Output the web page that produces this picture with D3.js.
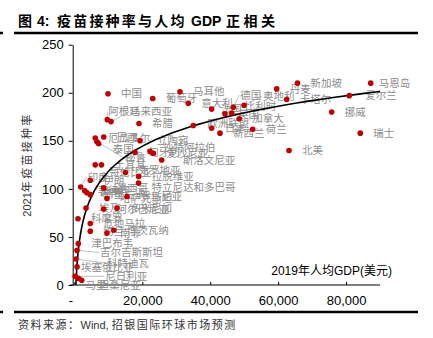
<!DOCTYPE html>
<html>
<head>
<meta charset="utf-8">
<script src="https://cdn.jsdelivr.net/npm/d3@7"></script>
<style>
  body { margin: 0; background: #fff; }
  svg { display: block; }
</style>
</head>
<body>
<script>
// Data: 2019 GDP per capita (USD) and 2021 vaccination rate (doses per 100)
const names = [
  "中国", "阿根廷", "马来西亚", "希腊", "葡萄牙", "马耳他", "意大利", "德国", "法国", "奥地利",
  "比利时", "英国", "加拿大", "欧洲联盟", "日本", "新西兰", "荷兰", "丹麦", "卡塔尔", "新加坡",
  "北美", "挪威", "爱尔兰", "瑞士", "马恩岛", "厄瓜多尔", "秘鲁", "泰国", "巴西", "立陶宛",
  "匈牙利", "沙特阿拉伯", "爱沙尼亚", "斯洛文尼亚", "哥伦比亚", "土耳其", "克罗地亚", "拉脱维亚", "特立尼达和多巴哥", "印度",
  "伊朗", "菲律宾", "越南", "斯里兰卡", "墨西哥", "哈萨克斯坦", "罗马尼亚", "埃及", "阿尔巴尼亚", "多米尼加",
  "科摩罗", "危地马拉", "约旦", "博茨瓦纳", "南非", "津巴布韦", "吉尔吉斯斯坦", "科特迪瓦", "埃塞俄比亚", "尼日利亚",
  "马里", "坦桑尼亚"
];
const gdp = [
  9900, 9690, 10780, 19030, 23060, 31100, 33540, 46800, 40430, 49950,
  46320, 44350, 48560, 35020, 40430, 42880, 52510, 59580, 62520, 65700,
  63200, 75770, 80960, 84200, 87260, 6150, 6650, 7160, 8630, 19320,
  17850, 22260, 23240, 25710, 6150, 7980, 15050, 18930, 18880, 1850,
  4680, 3030, 3710, 4680, 8630, 9600, 15490, 3420, 8630, 12550,
  1060, 4680, 4680, 11570, 9600, 1150, 770, 470, 770, 260,
  1210, 2150
];
const rate = [
  199, 172, 170, 168, 194, 201, 189, 185, 183, 187,
  179, 178, 173, 166, 163, 158, 162, 204, 193, 210,
  140, 180, 197, 158, 210, 153, 149, 147, 154, 150,
  138, 139, 137, 130, 125, 125, 117, 113, 106, 102,
  109, 98, 96, 94, 101, 90, 92, 80, 79, 80,
  69, 64, 56, 57, 54, 43, 36, 27, 19, 9,
  7, 5
];

const xTicks = [0, 20000, 40000, 60000, 80000];
const yTicks = [0, 50, 100, 150, 200, 250];

// log trend: rate = a + b * ln(gdp)
const trendA = -231;
const trendB = 37.9;

// label nudges (px) where the repelled labels sit away from the default spot
const labelNudge = {
  "阿根廷": [-12, -8], "马来西亚": [6, -10], "德国": [-6, -12], "法国": [-4, 0],
  "奥地利": [6, -9], "比利时": [0, -7], "欧洲联盟": [1, -2], "爱尔兰": [3, 0], "马恩岛": [-5, 0],
  "秘鲁": [15, 16], "泰国": [1, 6], "立陶宛": [4, 0], "沙特阿拉伯": [0, -4],
  "斯洛文尼亚": [8, 0], "哥伦比亚": [1, 7], "克罗地亚": [0, -2], "特立尼达和多巴哥": [0, 4],
  "印度": [-6, -10], "吉尔吉斯斯坦": [10, 2], "科特迪瓦": [18, 4], "埃塞俄比亚": [-9, 1],
  "尼日利亚": [17, 0], "马里": [-6, 7], "坦桑尼亚": [4, 5]
};

const width = 433;
const height = 338;
const cjk = "'Noto Sans CJK SC', sans-serif";
const latin = "'Liberation Sans', Arial, sans-serif";

const svg = d3.select("body").append("svg")
  .attr("width", width)
  .attr("height", height);

const x = d3.scaleLinear().domain([-500, 90000]).range([72.7, 380]);
const y = d3.scaleLinear().domain([0, 250]).range([285, 44.7]);

// Title and rules
const title = svg.append("text")
  .attr("y", 26)
  .attr("font-weight", "bold")
  .attr("font-size", 14)
  .attr("fill", "#000");
title.append("tspan").attr("x", 18).attr("font-family", cjk).text("图");
title.append("tspan").attr("x", 37).attr("font-family", latin).text("4:");
title.append("tspan").attr("x", 57).attr("font-family", cjk).attr("letter-spacing", 2.2).text("疫苗接种率与人均");
title.append("tspan").attr("x", 191).attr("font-family", latin).text("GDP");
title.append("tspan").attr("x", 226).attr("font-family", cjk).attr("letter-spacing", 3.5).text("正相关");

[33, 312].forEach(yy => {
  svg.append("line").attr("x1", 14).attr("x2", 418).attr("y1", yy).attr("y2", yy)
    .attr("stroke", "#000").attr("stroke-width", 2.5);
  svg.append("line").attr("x1", 0).attr("x2", 3).attr("y1", yy).attr("y2", yy)
    .attr("stroke", "#000").attr("stroke-width", 2.5);
});

const source = svg.append("text")
  .attr("x", 18)
  .attr("y", 329)
  .attr("font-size", 11)
  .attr("fill", "#333");
source.append("tspan").attr("font-family", cjk).attr("letter-spacing", 1.5).text("资料来源：");
source.append("tspan").attr("font-family", latin).text("Wind, ");
source.append("tspan").attr("font-family", cjk).attr("letter-spacing", 1.5).text("招银国际环球市场预测");

// Axes
const yAxis = svg.append("g")
  .attr("transform", `translate(${x.range()[0]},0)`)
  .call(d3.axisLeft(y).tickValues(yTicks).tickSize(4).tickPadding(5).tickSizeOuter(0));

const xAxis = svg.append("g")
  .attr("transform", `translate(0,${y(0)})`)
  .call(d3.axisBottom(x).tickValues(xTicks).tickSizeInner(-3).tickSizeOuter(0).tickPadding(11)
    .tickFormat(d => d === 0 ? "-" : d3.format(",")(d)));

[yAxis, xAxis].forEach(g => {
  g.selectAll("text").attr("font-family", latin).attr("font-size", 13).attr("fill", "#000");
  g.selectAll("path, line").attr("stroke", "#000");
});
xAxis.selectAll(".tick").filter(d => d === 0).select("text").attr("dx", -4);
xAxis.select(".domain").attr("d", `M70,0H${x.range()[1]}`);

svg.append("text")
  .attr("transform", "translate(31,164.5) rotate(-90)")
  .attr("text-anchor", "middle")
  .attr("font-size", 11)
  .attr("fill", "#333")
  .call(t => {
    t.append("tspan").attr("font-family", latin).text("2021");
    t.append("tspan").attr("font-family", cjk).attr("letter-spacing", 2.3).text("年疫苗接种率");
  });

svg.append("text")
  .attr("x", 392)
  .attr("y", 275)
  .attr("text-anchor", "end")
  .attr("font-size", 12)
  .attr("fill", "#000")
  .call(t => {
    t.append("tspan").attr("font-family", latin).text("2019");
    t.append("tspan").attr("font-family", cjk).text("年人均");
    t.append("tspan").attr("font-family", latin).text("GDP(");
    t.append("tspan").attr("font-family", cjk).text("美元");
    t.append("tspan").attr("font-family", latin).text(")");
  });

// Points and labels
const data = names.map((name, i) => {
  const nudge = labelNudge[name] || [0, 0];
  const px = x(gdp[i]);
  const py = y(rate[i]);
  return { name, px, py, lx: px + 13 + nudge[0], ly: py + nudge[1], far: Math.hypot(nudge[0], nudge[1]) > 9 };
});

svg.append("g")
  .selectAll("line")
  .data(data.filter(d => d.far))
  .join("line")
  .attr("x1", d => d.px)
  .attr("y1", d => d.py)
  .attr("x2", d => d.lx - 1)
  .attr("y2", d => d.ly)
  .attr("stroke", "#b0b0b0")
  .attr("stroke-width", 0.8);

svg.append("g")
  .attr("font-family", cjk)
  .attr("font-size", 10.5)
  .attr("fill", "#8c8c8c")
  .selectAll("text")
  .data(data)
  .join("text")
  .attr("x", d => d.lx)
  .attr("y", d => d.ly)
  .attr("dy", "0.35em")
  .text(d => d.name);

// trend curve
const g0 = Math.exp(-trendA / trendB);
const trendX = d3.range(0, 1.0001, 0.01).map(t => g0 * Math.pow(x.domain()[1] / g0, t));
svg.append("path")
  .datum(trendX)
  .attr("fill", "none")
  .attr("stroke", "#000")
  .attr("stroke-width", 1.6)
  .attr("d", d3.line().x(d => x(d)).y(d => y(trendA + trendB * Math.log(d))));

svg.append("g")
  .selectAll("circle")
  .data(data)
  .join("circle")
  .attr("cx", d => d.px)
  .attr("cy", d => d.py)
  .attr("r", 2.8)
  .attr("fill", "#c00000");
</script>
</body>
</html>
